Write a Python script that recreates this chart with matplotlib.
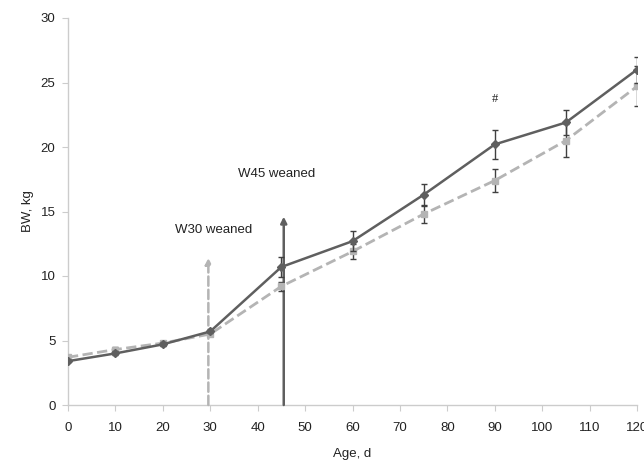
import matplotlib
matplotlib.use("Agg")
import matplotlib.pyplot as plt

plt.rcParams.update({'font.family': 'Liberation Sans', 'font.size': 9.5})

# Data
age = [0, 10, 20, 30, 45, 60, 75, 90, 105, 120]
w45_bw = [3.4, 4.0, 4.7, 5.7, 10.7, 12.7, 16.3, 20.2, 21.9, 26.0]
w45_err = [0.1, 0.15, 0.15, 0.15, 0.8, 0.8, 0.85, 1.1, 0.95, 1.0]
w30_bw = [3.7, 4.3, 4.8, 5.5, 9.2, 11.9, 14.8, 17.4, 20.5, 24.7]
w30_err = [0.15, 0.2, 0.15, 0.15, 0.35, 0.6, 0.7, 0.9, 1.25, 1.55]

dark = '#5f5f5f'
light = '#b4b4b4'

fig = plt.figure(figsize=(6.44, 4.66), dpi=100)
ax = fig.add_axes([68 / 644, 61 / 466, 569 / 644, 387 / 466])

# weaning arrows
ax.annotate('', xy=(29.6, 11.4), xytext=(29.6, 0),
            arrowprops=dict(arrowstyle='-|>', color=light, lw=1.8, ls='--',
                            mutation_scale=9, shrinkA=0, shrinkB=0))
ax.annotate('', xy=(45.5, 14.6), xytext=(45.5, 0),
            arrowprops=dict(arrowstyle='-|>', color=dark, lw=1.8,
                            mutation_scale=9, shrinkA=0, shrinkB=0))

ax.errorbar(age, w30_bw, yerr=w30_err, color=light, ls='--', lw=2,
            marker='s', ms=4.5, ecolor='#404040', elinewidth=1, capsize=2.5, zorder=3)
ax.errorbar(age, w45_bw, yerr=w45_err, color=dark, ls='-', lw=1.8,
            marker='D', ms=4.5, ecolor='#404040', elinewidth=1, capsize=2.5, zorder=4)

ax.text(30.8, 13.6, 'W30 weaned', ha='center', va='center', color='#222222')
ax.text(43.9, 17.9, 'W45 weaned', ha='center', va='center', color='#222222')
ax.text(90, 23.7, '#', ha='center', va='center', family='Liberation Serif',
        fontsize=9, color='#222222')

ax.set_xlim(0, 120)
ax.set_ylim(0, 30)
ax.set_xticks(range(0, 121, 10))
ax.set_yticks(range(0, 31, 5))
ax.set_xlabel('Age, d', labelpad=10, color='#222222')
ax.set_ylabel('BW, kg', labelpad=5, color='#222222')

for s in ['top', 'right']:
    ax.spines[s].set_visible(False)
for s in ['left', 'bottom']:
    ax.spines[s].set_color('#cccccc')
    ax.spines[s].set_linewidth(1)
ax.tick_params(axis='both', color='#cccccc', length=4, labelcolor='#222222')
ax.tick_params(axis='x', pad=8)
ax.tick_params(axis='y', pad=5)

fig.savefig('out.png', dpi=100)
